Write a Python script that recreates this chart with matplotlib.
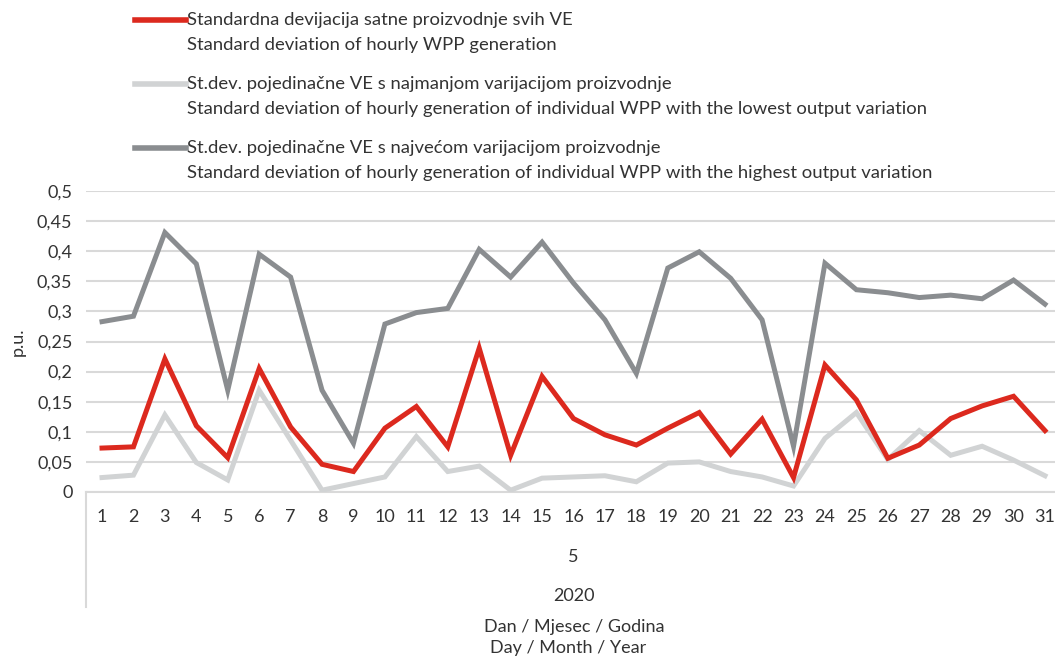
import matplotlib
matplotlib.use("Agg")
import matplotlib.pyplot as plt
from matplotlib.lines import Line2D

plt.rcParams['font.family'] = ['Lato', 'DejaVu Sans']

days = list(range(1, 32))
std_all = [0.073, 0.075, 0.221, 0.110, 0.057, 0.205, 0.108, 0.046, 0.034, 0.106,
           0.142, 0.075, 0.239, 0.061, 0.192, 0.122, 0.095, 0.078, 0.106, 0.132,
           0.063, 0.121, 0.024, 0.211, 0.153, 0.056, 0.078, 0.122, 0.143, 0.159, 0.102]
std_low = [0.024, 0.028, 0.128, 0.049, 0.020, 0.169, 0.086, 0.003, 0.014, 0.025,
           0.092, 0.034, 0.043, 0.003, 0.023, 0.025, 0.027, 0.017, 0.048, 0.050,
           0.034, 0.025, 0.010, 0.089, 0.132, 0.054, 0.102, 0.061, 0.076, 0.053, 0.027]
std_high = [0.283, 0.292, 0.431, 0.379, 0.169, 0.395, 0.357, 0.169, 0.081, 0.279,
            0.298, 0.305, 0.403, 0.357, 0.415, 0.347, 0.286, 0.197, 0.372, 0.399,
            0.355, 0.286, 0.076, 0.380, 0.336, 0.331, 0.323, 0.327, 0.321, 0.352, 0.312]
yticks = [0, 0.05, 0.1, 0.15, 0.2, 0.25, 0.3, 0.35, 0.4, 0.45, 0.5]
ytick_labels = ['0', '0,05', '0,1', '0,15', '0,2', '0,25', '0,3', '0,35', '0,4', '0,45', '0,5']
labels = [
    ('Standardna devijacija satne proizvodnje svih VE',
     'Standard deviation of hourly WPP generation'),
    ('St.dev. pojedinačne VE s najmanjom varijacijom proizvodnje',
     'Standard deviation of hourly generation of individual WPP with the lowest output variation'),
    ('St.dev. pojedinačne VE s najvećom varijacijom proizvodnje',
     'Standard deviation of hourly generation of individual WPP with the highest output variation'),
]
colors = ['#dc291e', '#d1d3d4', '#8a8d90']
txt = '#333333'
fs = 13

fig = plt.figure(figsize=(10.55, 6.57), dpi=100)
W, H = 1055, 657
ax = fig.add_axes([86.3 / W, 1 - 492 / H, (1060.7 - 86.3) / W, (492 - 191) / H])

for series, c in zip([std_low, std_high, std_all], [colors[1], colors[2], colors[0]]):
    ax.plot(days, series, color=c, lw=3.6, solid_joinstyle='miter', zorder=3)

ax.set_xlim(0.5, 31.5)
ax.set_ylim(0, 0.5)
ax.set_yticks(yticks)
ax.set_yticklabels(ytick_labels)
ax.set_xticks(days)
ax.set_xticklabels([str(d) for d in days])
ax.grid(axis='y', color='#d9d9d9', lw=1.5)
ax.set_axisbelow(True)
for s in ['top', 'right', 'left']:
    ax.spines[s].set_visible(False)
ax.spines['bottom'].set_color('#d9d9d9')
ax.spines['bottom'].set_linewidth(1.5)
ax.tick_params(axis='both', length=0, labelsize=fs, colors=txt)
ax.tick_params(axis='x', pad=12)
ax.tick_params(axis='y', pad=10)
ax.set_ylabel('p.u.', fontsize=fs, color=txt, labelpad=8)

# multi-level category axis
tr = ax.get_xaxis_transform()
ax.text(16, -65 / 301, '5', transform=tr, ha='center', va='center', fontsize=fs, color=txt)
ax.text(16, -104 / 301, '2020', transform=tr, ha='center', va='center', fontsize=fs, color=txt)
ax.add_line(Line2D([0, 0], [0, -115 / 301], transform=ax.transAxes, color='#d9d9d9', lw=1.5, clip_on=False))
fig.text(574 / W, 1 - 627 / H, 'Dan / Mjesec / Godina', ha='center', va='center', fontsize=fs, color=txt)
fig.text(568 / W, 1 - 648 / H, 'Day / Month / Year', ha='center', va='center', fontsize=fs, color=txt)

# legend
for i, ((l1, l2), c) in enumerate(zip(labels, colors)):
    y0 = 20 + i * 64
    fig.add_artist(Line2D([135 / W, 186 / W], [1 - y0 / H, 1 - y0 / H], color=c, lw=4))
    fig.text(187 / W, 1 - y0 / H, l1, ha='left', va='center', fontsize=13.3, color=txt)
    fig.text(187 / W, 1 - (y0 + 25) / H, l2, ha='left', va='center', fontsize=13.3, color=txt)

fig.savefig('out.png', dpi=100)
